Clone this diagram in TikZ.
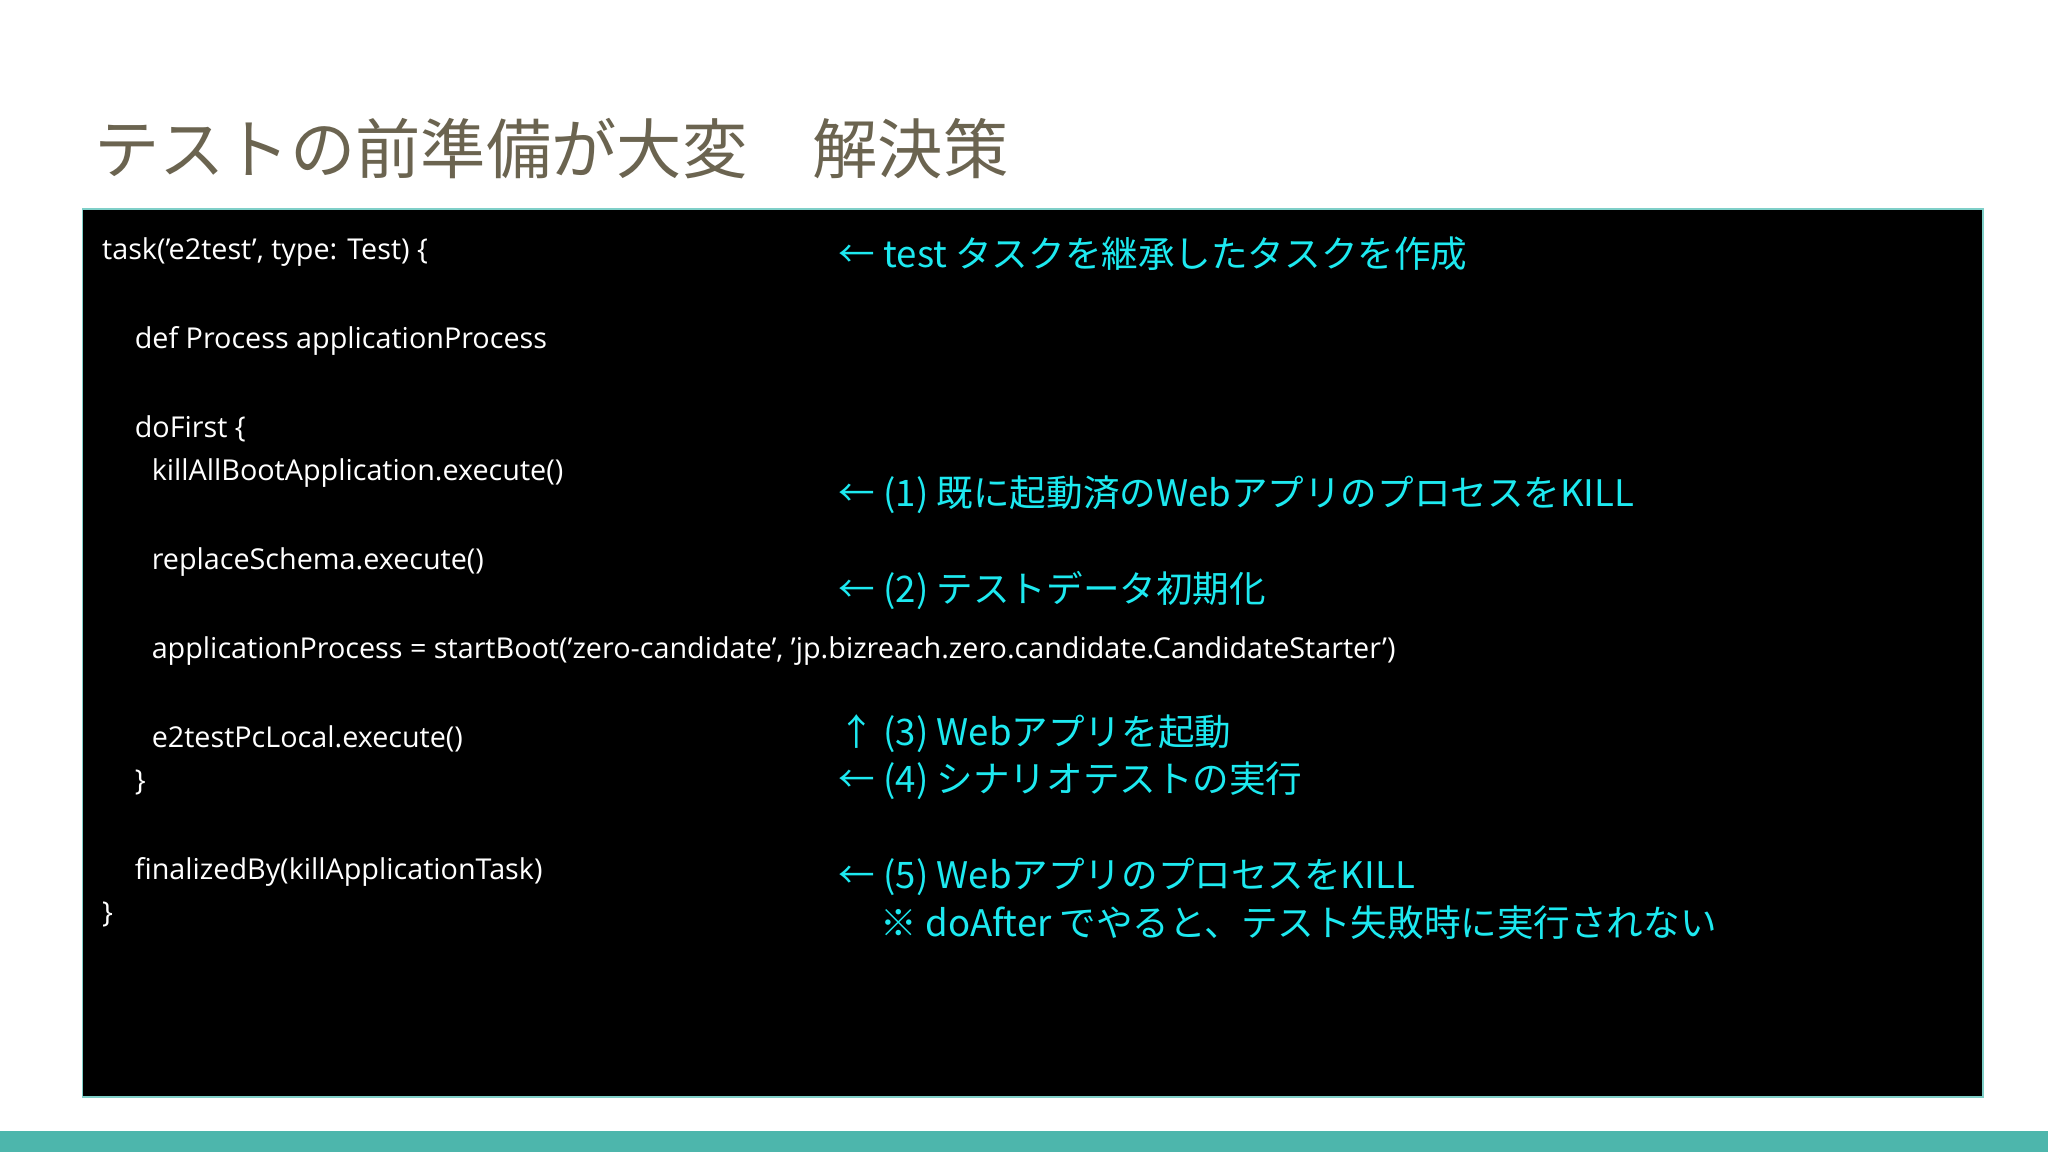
\documentclass[tikz,border=0pt]{standalone}
\usepackage{fontspec}
\setmainfont{Open Sans}
\newfontfamily\cjk{Noto Sans CJK JP}
\definecolor{titlec}{HTML}{6B6450}
\definecolor{cyanc}{HTML}{1DE9F0}
\definecolor{barc}{HTML}{4DB6AC}
\definecolor{framec}{HTML}{7FCFC8}
\tikzset{
  code/.style={anchor=base west,inner sep=0,text=white,font=\fontsize{22}{26}\selectfont},
  note/.style={anchor=base west,inner sep=0,text=cyanc,font=\cjk\fontsize{28}{32}\selectfont},
}
\begin{document}
\begin{tikzpicture}[x=1pt,y=-1pt]
\useasboundingbox (0,0) rectangle (1568,882);
\fill[white] (0,0) rectangle (1568,882);
\node[anchor=base west,inner sep=0,text=titlec,font=\cjk\fontsize{50}{56}\selectfont] (title) at (72,133) {テストの前準備が大変　解決策};
\draw[framec,line width=1.2pt,fill=black] (63,160) rectangle (1518,840);
\fill[barc] (0,866) rectangle (1568,882);
\node[code] (c1) at (78,199) {task('e2test', type: Test) \{};
\node[code] (c2) at (103,267) {def Process applicationProcess};
\node[code] (c3) at (103,335) {doFirst \{};
\node[code] (c4) at (116,368) {killAllBootApplication.execute()};
\node[code] (c5) at (116,436) {replaceSchema.execute()};
\node[code] (c6) at (116,504) {applicationProcess = startBoot('zero-candidate', 'jp.bizreach.zero.candidate.CandidateStarter')};
\node[code] (c7) at (116,572) {e2testPcLocal.execute()};
\node[code] (c8) at (103,605) {\}};
\node[code] (c9) at (103,673) {finalizedBy(killApplicationTask)};
\node[code] (c10) at (78,706) {\}};
\node[note] (n1) at (642,205) {← test タスクを継承したタスクを作成};
\node[note] (n2) at (642,388) {← (1) 既に起動済のWebアプリのプロセスをKILL};
\node[note] (n3) at (642,461) {← (2) テストデータ初期化};
\node[note] (n4) at (642,571) {↑ (3) Webアプリを起動};
\node[note] (n5) at (642,607) {← (4) シナリオテストの実行};
\node[note] (n6) at (642,680) {← (5) WebアプリのプロセスをKILL};
\node[note] (n7) at (674,717) {※ doAfter でやると、テスト失敗時に実行されない};
\end{tikzpicture}
\end{document}
